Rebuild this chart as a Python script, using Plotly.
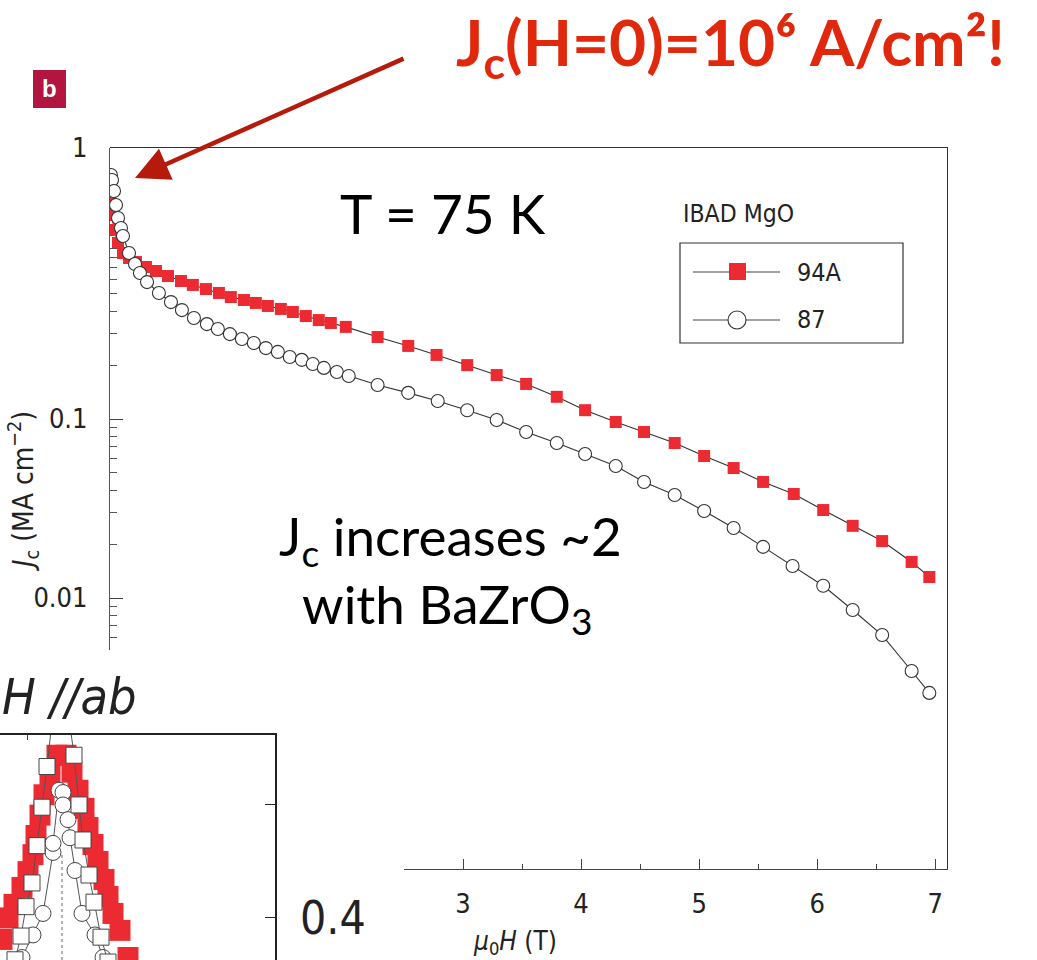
import plotly.graph_objects as go

W, H = 1037, 960
def px(x): return x / W
def py(y): return 1 - y / H

# ---------------- main panel data (mu0H in T, Jc in MA/cm^2) ----------------
field_94A = [0.0, 0.017, 0.034, 0.068, 0.110, 0.161, 0.220, 0.305, 0.390, 0.492, 0.602, 0.703,
             0.814, 0.924, 1.025, 1.136, 1.237, 1.339, 1.449, 1.551, 1.661, 1.771, 1.873, 2.0,
             2.27, 2.53, 2.77, 3.03, 3.28, 3.53, 3.79, 4.03, 4.29, 4.53, 4.79, 5.04, 5.29,
             5.54, 5.80, 6.05, 6.30, 6.55, 6.80, 6.95]
jc_94A = [1.673, 1.379, 1.137, 0.962, 0.846, 0.793, 0.754, 0.707, 0.671, 0.629, 0.590, 0.561,
          0.532, 0.506, 0.480, 0.462, 0.445, 0.428, 0.412, 0.396, 0.376, 0.357, 0.344, 0.327,
          0.287, 0.256, 0.228, 0.200, 0.176, 0.157, 0.133, 0.112, 0.0962, 0.0846, 0.0734,
          0.0621, 0.0532, 0.0445, 0.0381, 0.0310, 0.0253, 0.0208, 0.0159, 0.0131]

field_87 = [0.008, 0.017, 0.034, 0.051, 0.068, 0.093, 0.110, 0.161, 0.212, 0.254, 0.314,
            0.415, 0.517, 0.610, 0.712, 0.822, 0.915, 1.017, 1.119, 1.220, 1.322, 1.424,
            1.525, 1.627, 1.720, 1.814, 1.924, 2.025, 2.27, 2.53, 2.78, 3.03, 3.28, 3.53,
            3.79, 4.03, 4.29, 4.53, 4.79, 5.04, 5.29, 5.54, 5.79, 6.05, 6.30, 6.55, 6.80, 6.95]
jc_87 = [2.307, 2.164, 1.878, 1.569, 1.327, 1.167, 1.053, 0.846, 0.734, 0.654, 0.582,
         0.506, 0.450, 0.406, 0.367, 0.339, 0.318, 0.298, 0.280, 0.266, 0.249, 0.237,
         0.222, 0.214, 0.203, 0.193, 0.183, 0.174, 0.155, 0.140, 0.126, 0.112, 0.0987,
         0.0846, 0.0734, 0.0637, 0.0546, 0.0445, 0.0376, 0.0306, 0.0246, 0.0193, 0.0151,
         0.0117, 0.00857, 0.00621, 0.00391, 0.00295]

series_names = ["94A", "87"]
x_ticks = [3, 4, 5, 6, 7]
x_minor = [2.5, 3.5, 4.5, 5.5, 6.5]
y_ticktext = ["1", "0.1", "0.01"]
y_minor = [0.006, 0.007, 0.008, 0.009, 0.02, 0.03, 0.04, 0.05, 0.06, 0.07, 0.08, 0.09,
           0.2, 0.3, 0.4, 0.5, 0.6, 0.7, 0.8, 0.9]

# ---------------- inset (H // ab) data: angle (deg) vs Jc ----------------
ang_red = [84.0, 84.6, 85.2, 86.0, 86.6, 87.1, 87.4, 87.8, 88.2, 88.8, 89.5, 90.4, 91.0,
           91.6, 92.2, 92.6, 93.1, 93.6, 94.2, 94.6, 95.1, 95.8, 96.6]
jc_red = [0.381, 0.400, 0.412, 0.427, 0.441, 0.456, 0.473, 0.491, 0.509, 0.527, 0.544, 0.544,
          0.529, 0.513, 0.497, 0.480, 0.465, 0.450, 0.434, 0.419, 0.404, 0.389, 0.365]
ang_sq = [85.3, 85.9, 86.4, 87.0, 87.5, 88.0, 88.5, 89.8, 91.2, 91.7, 92.1, 92.7, 93.2, 93.9, 94.6]
jc_sq = [0.363, 0.384, 0.410, 0.431, 0.464, 0.498, 0.534, 0.637, 0.544, 0.500, 0.469, 0.438,
         0.414, 0.383, 0.361]
ang_ci = [86.0, 87.1, 88.1, 89.1, 89.1, 89.7, 90.1, 90.1, 90.6, 90.8, 91.3, 92.0, 93.3, 94.1]
jc_ci = [0.365, 0.385, 0.404, 0.458, 0.466, 0.513, 0.511, 0.500, 0.487, 0.471, 0.442, 0.404,
         0.385, 0.365]

RED = "#ec2a32"
LINE = "#333333"
NARROW = "Liberation Sans Narrow, DejaVu Sans Condensed, Arial Narrow, sans-serif"
GILL = "Lato, Open Sans, sans-serif"

Y_TOP_LOG = 0.514
Y_BOT_LOG = -3.514
Y_AXIS_END_LOG = -2.2905

fig = go.Figure()

# inset traces
fig.add_trace(go.Scatter(x=ang_red, y=jc_red, mode="markers", xaxis="x2", yaxis="y2",
                         marker=dict(symbol="square", size=21, color=RED, line=dict(width=0)),
                         showlegend=False, hoverinfo="skip"))
fig.add_trace(go.Scatter(x=ang_ci, y=jc_ci, mode="lines+markers", xaxis="x2", yaxis="y2",
                         line=dict(color="#555", width=1),
                         marker=dict(symbol="circle", size=16, color="white",
                                     line=dict(color="#444", width=1)), showlegend=False))
fig.add_trace(go.Scatter(x=ang_sq, y=jc_sq, mode="lines+markers", xaxis="x2", yaxis="y2",
                         line=dict(color="#555", width=1),
                         marker=dict(symbol="square", size=16, color="white",
                                     line=dict(color="#444", width=1)), showlegend=False))

# empty helper traces so that the partial bottom / left axes get their own subplots
fig.add_trace(go.Scatter(x=[None], y=[None], xaxis="x3", yaxis="y", mode="markers",
                         showlegend=False, hoverinfo="skip"))
fig.add_trace(go.Scatter(x=[None], y=[None], xaxis="x", yaxis="y3", mode="markers",
                         showlegend=False, hoverinfo="skip"))

# main traces
fig.add_trace(go.Scatter(x=field_94A, y=jc_94A, mode="lines+markers", name=series_names[0],
                         line=dict(color=LINE, width=1.1),
                         marker=dict(symbol="square", size=12, color=RED, line=dict(width=0)),
                         showlegend=False))
fig.add_trace(go.Scatter(x=field_87, y=jc_87, mode="lines+markers", name=series_names[1],
                         line=dict(color=LINE, width=1.1),
                         marker=dict(symbol="circle", size=13, color="white",
                                     line=dict(color=LINE, width=1.1)),
                         showlegend=False))

common = dict(automargin=False, showgrid=False, zeroline=False)
fig.update_layout(
    width=W, height=H, margin=dict(l=0, r=0, t=0, b=0, autoexpand=False),
    paper_bgcolor="white", plot_bgcolor="rgba(0,0,0,0)", showlegend=False,
    xaxis=dict(domain=[px(110), px(947)], range=[0, 7.1], anchor="y", side="top",
               showline=True, linecolor=LINE, linewidth=1.2, ticks="", showticklabels=False,
               **common),
    yaxis=dict(domain=[py(869), py(148)], type="log", range=[Y_BOT_LOG, Y_TOP_LOG], anchor="x",
               side="right", showline=True, linecolor=LINE, linewidth=1.2, ticks="",
               showticklabels=False, **common),
    xaxis3=dict(domain=[px(404), px(947)], range=[2.5, 7.1], anchor="y", side="bottom",
                showline=True, linecolor="#444", linewidth=1.2, ticks="inside", ticklen=10,
                tickcolor="#444", tickmode="array", tickvals=x_ticks,
                ticktext=[str(v) for v in x_ticks],
                tickfont=dict(family=NARROW, size=27, color="#222"), ticklabelstandoff=10,
                minor=dict(ticks="inside", ticklen=5, tickcolor="#444", tickmode="array",
                           tickvals=x_minor),
                **common),
    yaxis3=dict(domain=[py(650), py(148)], type="log", range=[Y_AXIS_END_LOG, Y_TOP_LOG],
                anchor="x", side="left", showline=True, linecolor="#555", linewidth=1.2,
                ticks="inside", ticklen=13, tickcolor="#444", tickmode="array",
                tickvals=[10 ** Y_TOP_LOG, 0.1, 0.01], ticktext=y_ticktext,
                tickfont=dict(family=NARROW, size=27, color="#222"), ticklabelstandoff=16,
                minor=dict(ticks="inside", ticklen=7, tickcolor="#555", tickmode="array",
                           tickvals=y_minor),
                **common),
    xaxis2=dict(domain=[0, px(275)], range=[83.8, 111.3], anchor="y2", side="top",
                showline=True, linecolor="#222", linewidth=1.5, ticks="inside", ticklen=5,
                tickmode="array", tickvals=[86.5], showticklabels=False, **common),
    yaxis2=dict(domain=[0, py(735)], range=[0.3628, 0.5619], anchor="x2", side="right",
                showline=True, linecolor="#222", linewidth=1.5, ticks="inside", ticklen=10,
                tickcolor="#222", tickmode="array", tickvals=[0.4, 0.5], ticktext=["0.4", ""],
                tickfont=dict(family=NARROW, size=46, color="#222"), ticklabelstandoff=14,
                **common),
)

shapes = [
    dict(type="line", xref="x2", yref="y2", x0=90, x1=90, y0=0.3628, y1=0.458,
         line=dict(color="#666", width=1, dash="dot")),
    dict(type="rect", xref="paper", yref="paper", x0=px(680), x1=px(903), y0=py(343), y1=py(243),
         line=dict(color="#333", width=1.2), fillcolor="rgba(0,0,0,0)"),
    dict(type="line", xref="paper", yref="paper", x0=px(693), x1=px(780), y0=py(272), y1=py(272),
         line=dict(color="#444", width=1.1)),
    dict(type="line", xref="paper", yref="paper", x0=px(693), x1=px(780), y0=py(320), y1=py(320),
         line=dict(color="#444", width=1.1)),
    dict(type="rect", xref="paper", yref="paper", x0=px(729), x1=px(746), y0=py(280), y1=py(263),
         line=dict(width=0), fillcolor=RED),
    dict(type="circle", xref="paper", yref="paper", x0=px(728), x1=px(746), y0=py(329), y1=py(311),
         line=dict(color="#333", width=1.1), fillcolor="white"),
    dict(type="rect", xref="paper", yref="paper", x0=px(33), x1=px(66), y0=py(108), y1=py(70),
         line=dict(width=0), fillcolor="#b2153f"),
]
fig.update_layout(shapes=shapes)

ann = [
    dict(x=px(0), y=py(697), xanchor="left", text="<i>H //ab</i>",
         font=dict(family=NARROW, size=50, color="#222")),
    dict(x=px(49.5), y=py(88), text="<b>b</b>", font=dict(family="Liberation Sans, Arial", size=24, color="white")),
    dict(x=px(443), y=py(213), text="T = 75 K", font=dict(family=GILL, size=55, color="black")),
    dict(x=px(450), y=py(539), text="J<sub>c</sub> increases ~2", font=dict(family=GILL, size=53, color="black")),
    dict(x=px(447), y=py(607), text="with BaZrO<sub>3</sub>", font=dict(family=GILL, size=53, color="black")),
    dict(x=px(730), y=py(46), text="<b>J<sub>c</sub>(H=0)=10⁶ A/cm²!</b>",
         font=dict(family=GILL, size=64, color="#e0280c")),
    dict(x=px(681), y=py(213), xanchor="left", text="IBAD MgO",
         font=dict(family=NARROW, size=24.5, color="#222")),
    dict(x=px(795), y=py(272), xanchor="left", text=series_names[0],
         font=dict(family=NARROW, size=25, color="#222")),
    dict(x=px(795), y=py(320), xanchor="left", text=series_names[1],
         font=dict(family=NARROW, size=25, color="#222")),
    dict(x=px(24), y=py(492), textangle=-90, text="<i>J</i><sub>c</sub> (MA cm<sup>−2</sup>)",
         font=dict(family=NARROW, size=28, color="#222")),
    dict(x=px(515), y=py(942), text="<i>μ</i><sub>0</sub><i>H</i> (T)",
         font=dict(family=NARROW, size=26, color="#222")),
]
for a in ann:
    a.setdefault("xref", "paper")
    a.setdefault("yref", "paper")
    a.setdefault("showarrow", False)
    a.setdefault("xanchor", "center")
    a.setdefault("yanchor", "middle")
# arrow
ann.append(dict(xref="paper", yref="paper", x=px(135), y=py(178), ax=270, ay=-120, text="",
                showarrow=True, arrowhead=2, arrowsize=1.5, arrowwidth=4.5, arrowcolor="#b51a0a"))
fig.update_layout(annotations=ann)

fig.write_html("out.html")
